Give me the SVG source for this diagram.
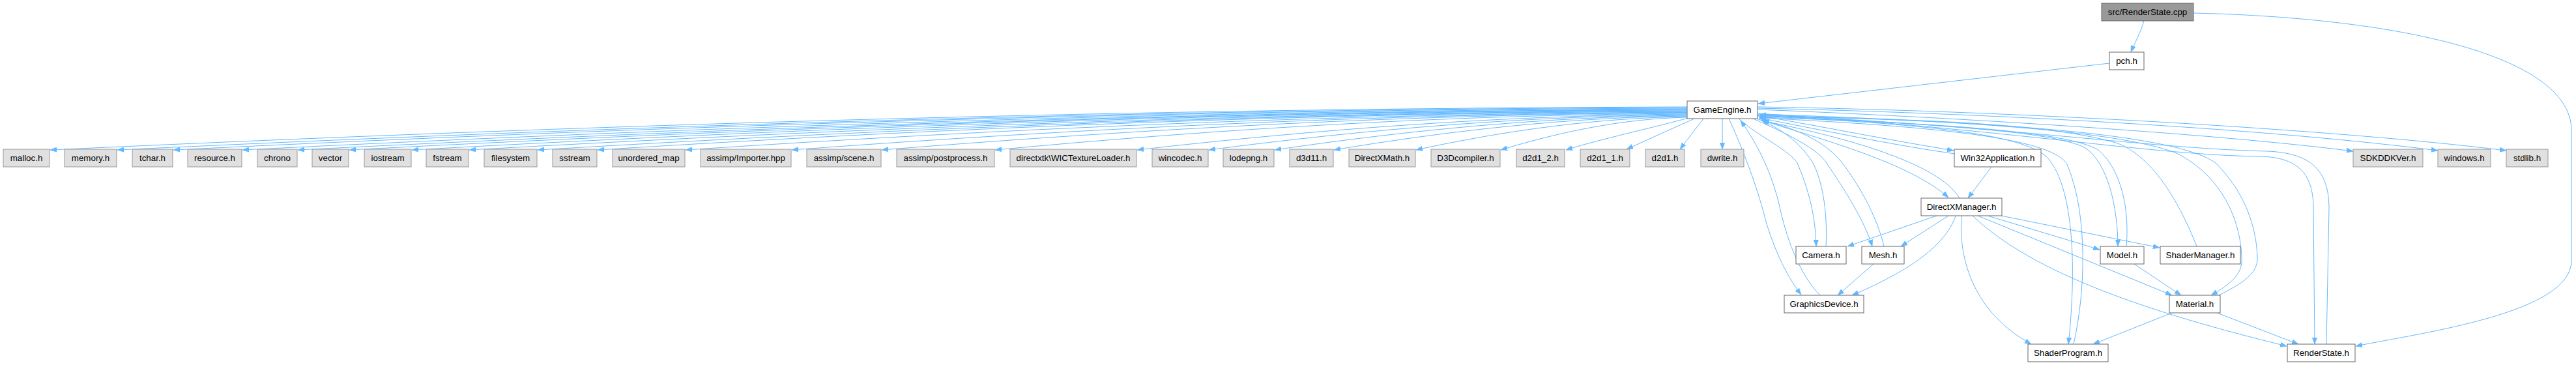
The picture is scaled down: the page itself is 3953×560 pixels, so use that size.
<svg xmlns="http://www.w3.org/2000/svg" width="3953" height="560" viewBox="0 0 3953 560">
<style>
rect{stroke-width:1}
.leaf rect{fill:#e0e0e0;stroke:#999999}
.nd rect{fill:#ffffff;stroke:#666666}
.root rect{fill:#999999;stroke:#666666}
text{font-family:"Liberation Sans",Arial,Helvetica,sans-serif;font-size:13.33px;text-anchor:middle;fill:#000000}
#edges path{fill:none;stroke:#63b8ff;stroke-width:1;marker-end:url(#arr)}
</style>
<defs>
<marker id="arr" markerUnits="userSpaceOnUse" markerWidth="11" markerHeight="8" refX="10" refY="4" orient="auto">
<path d="M0,0.3 L10,4 L0,7.7 z" fill="#63b8ff" stroke="#63b8ff" stroke-width="0.6"/>
</marker>
</defs>
<rect width="3953" height="560" fill="#ffffff"/>
<g id="edges">
<path d="M3290,32 C3285,50 3276,65 3270,80"/>
<path d="M3366,20 C3700,28 3946,90 3946,200 L3946,400 C3946,480 3720,510 3615,531"/>
<path d="M3237,97 L2698,159"/>
<path d="M2589,164 C1751,166 914,191 77,230"/>
<path d="M2589,165 C1786,167 982,192 180,230"/>
<path d="M2589,166 C1814,168 1040,192 266,230"/>
<path d="M2589,167 C1850,169 1110,193 372,230"/>
<path d="M2589,168 C1878,170 1167,194 457,230"/>
<path d="M2589,168.5 C1904,170.5 1220,194 536,230"/>
<path d="M2589,169 C1936,171 1284,194 632,230"/>
<path d="M2589,170 C1966,172 1342,195 720,230"/>
<path d="M2589,170.5 C2001,172.5 1412,195 825,230"/>
<path d="M2589,171 C2031,173 1474,195 917,230"/>
<path d="M2589,172 C2076,174 1564,196 1052,230"/>
<path d="M2589,172.5 C2131,174.5 1672,196 1215,230"/>
<path d="M2589,173 C2177,175 1764,197 1353,230"/>
<path d="M2589,174 C2235,176 1880,197 1527,230"/>
<path d="M2589,175 C2307,177 2026,198 1745,230"/>
<path d="M2589,176 C2344,178 2099,198 1855,230"/>
<path d="M2589,177 C2378,179 2166,199 1956,230"/>
<path d="M2589,178 C2408,180 2227,200 2047,230"/>
<path d="M2589,179 C2450,181 2311,200 2173,230"/>
<path d="M2589,180 C2493,182 2398,201 2303,230"/>
<path d="M2591,181 C2540,195 2450,215 2403,230"/>
<path d="M2600,182 L2496,229"/>
<path d="M2614,182 L2578,229"/>
<path d="M2643,182 L2643,229"/>
<path d="M2697,177 C2800,195 2900,215 2998,231"/>
<path d="M3000,236 C2900,222 2800,200 2699,181"/>
<path d="M2695,182 C2800,215 2930,250 2990,303"/>
<path d="M3007,304 C2975,250 2830,210 2703,185"/>
<path d="M2668,182 C2700,210 2745,230 2758,250 C2775,290 2786,330 2787,378"/>
<path d="M2802,378 C2805,320 2795,275 2782,250 C2760,215 2730,197 2704,185"/>
<path d="M2690,182 C2750,208 2790,230 2803,250 C2830,290 2862,340 2873,378"/>
<path d="M2891,378 C2880,330 2850,280 2827,250 C2800,215 2750,195 2705,185"/>
<path d="M2653,182 C2680,240 2700,300 2710,340 C2725,390 2745,428 2764,452"/>
<path d="M2793,453 C2760,420 2740,360 2731,317 C2720,270 2700,225 2671,185"/>
<path d="M2697,177 C2950,190 3150,200 3200,227 C3235,250 3250,320 3250,378"/>
<path d="M3263,378 C3268,320 3255,260 3220,230 C3170,200 2950,188 2700,180"/>
<path d="M3371,378 C3340,300 3300,240 3250,220 C3150,190 2950,182 2700,179"/>
<path d="M2697,178 C2950,190 3100,205 3140,240 C3180,280 3188,400 3174,528"/>
<path d="M3182,528 C3200,450 3205,330 3172,252 C3150,215 3000,195 2700,181"/>
<path d="M2697,175 C3000,185 3250,200 3340,235 C3410,270 3440,340 3440,400 C3440,425 3415,440 3393,453"/>
<path d="M3405,453 C3440,435 3466,420 3464,394 C3462,340 3440,290 3400,250 C3330,200 3000,185 2700,177"/>
<path d="M2697,174 C3100,200 3300,238 3470,240 C3530,242 3550,270 3550,320 L3552,528"/>
<path d="M3570,528 L3574,320 C3574,260 3545,235 3480,232 C3300,228 3100,195 2700,176"/>
<path d="M2697,168 C3000,180 3400,205 3611,232"/>
<path d="M2697,166 C3100,175 3500,200 3741,231"/>
<path d="M2697,164 C3100,170 3600,200 3846,231"/>
<path d="M3056,256 L3020,304"/>
<path d="M2972,331 L2835,378"/>
<path d="M2990,331 L2917,378"/>
<path d="M3001,331 C2985,380 2920,420 2842,453"/>
<path d="M3010,331 C3005,400 3030,480 3117,528"/>
<path d="M3050,331 L3222,383"/>
<path d="M3071,331 L3314,380"/>
<path d="M3035,331 L3333,453"/>
<path d="M3027,331 C3120,420 3300,480 3509,531"/>
<path d="M2875,405 L2820,453"/>
<path d="M3275,405 L3347,453"/>
<path d="M3333,480 L3212,528"/>
<path d="M3402,480 L3527,528"/>
</g>
<g id="n_root" class="root"><rect x="3225" y="5" width="141" height="27"/><text x="3295.5" y="23.2">src/RenderState.cpp</text></g>
<g id="n_pch" class="nd"><rect x="3237" y="80" width="53" height="27"/><text x="3263.5" y="98.2">pch.h</text></g>
<g id="n_gameengine" class="nd"><rect x="2589" y="155" width="108" height="27"/><text x="2643" y="173.2">GameEngine.h</text></g>
<g id="n_malloc" class="leaf"><rect x="5" y="229" width="71" height="27"/><text x="40.5" y="247.2">malloc.h</text></g>
<g id="n_memory" class="leaf"><rect x="99" y="229" width="80" height="27"/><text x="139" y="247.2">memory.h</text></g>
<g id="n_tchar" class="leaf"><rect x="203" y="229" width="62" height="27"/><text x="234" y="247.2">tchar.h</text></g>
<g id="n_resource" class="leaf"><rect x="288" y="229" width="83" height="27"/><text x="329.5" y="247.2">resource.h</text></g>
<g id="n_chrono" class="leaf"><rect x="395" y="229" width="61" height="27"/><text x="425.5" y="247.2">chrono</text></g>
<g id="n_vector" class="leaf"><rect x="479" y="229" width="56" height="27"/><text x="507" y="247.2">vector</text></g>
<g id="n_iostream" class="leaf"><rect x="559" y="229" width="72" height="27"/><text x="595" y="247.2">iostream</text></g>
<g id="n_fstream" class="leaf"><rect x="654" y="229" width="65" height="27"/><text x="686.5" y="247.2">fstream</text></g>
<g id="n_filesystem" class="leaf"><rect x="743" y="229" width="81" height="27"/><text x="783.5" y="247.2">filesystem</text></g>
<g id="n_sstream" class="leaf"><rect x="848" y="229" width="68" height="27"/><text x="882" y="247.2">sstream</text></g>
<g id="n_unordered_map" class="leaf"><rect x="940" y="229" width="111" height="27"/><text x="995.5" y="247.2">unordered_map</text></g>
<g id="n_importer" class="leaf"><rect x="1075" y="229" width="139" height="27"/><text x="1144.5" y="247.2">assimp/Importer.hpp</text></g>
<g id="n_scene" class="leaf"><rect x="1238" y="229" width="114" height="27"/><text x="1295" y="247.2">assimp/scene.h</text></g>
<g id="n_postprocess" class="leaf"><rect x="1376" y="229" width="150" height="27"/><text x="1451" y="247.2">assimp/postprocess.h</text></g>
<g id="n_wic" class="leaf"><rect x="1550" y="229" width="194" height="27"/><text x="1647" y="247.2">directxtk\WICTextureLoader.h</text></g>
<g id="n_wincodec" class="leaf"><rect x="1768" y="229" width="86" height="27"/><text x="1811" y="247.2">wincodec.h</text></g>
<g id="n_lodepng" class="leaf"><rect x="1877" y="229" width="78" height="27"/><text x="1916" y="247.2">lodepng.h</text></g>
<g id="n_d3d11" class="leaf"><rect x="1979" y="229" width="67" height="27"/><text x="2012.5" y="247.2">d3d11.h</text></g>
<g id="n_directxmath" class="leaf"><rect x="2070" y="229" width="102" height="27"/><text x="2121" y="247.2">DirectXMath.h</text></g>
<g id="n_d3dcompiler" class="leaf"><rect x="2196" y="229" width="106" height="27"/><text x="2249" y="247.2">D3Dcompiler.h</text></g>
<g id="n_d2d1_2" class="leaf"><rect x="2327" y="229" width="74" height="27"/><text x="2364" y="247.2">d2d1_2.h</text></g>
<g id="n_d2d1_1" class="leaf"><rect x="2425" y="229" width="76" height="27"/><text x="2463" y="247.2">d2d1_1.h</text></g>
<g id="n_d2d1" class="leaf"><rect x="2525" y="229" width="60" height="27"/><text x="2555" y="247.2">d2d1.h</text></g>
<g id="n_dwrite" class="leaf"><rect x="2610" y="229" width="66" height="27"/><text x="2643" y="247.2">dwrite.h</text></g>
<g id="n_win32" class="nd"><rect x="2999" y="229" width="133" height="27"/><text x="3065.5" y="247.2">Win32Application.h</text></g>
<g id="n_sdkddkver" class="leaf"><rect x="3611" y="229" width="107" height="27"/><text x="3664.5" y="247.2">SDKDDKVer.h</text></g>
<g id="n_windows" class="leaf"><rect x="3741" y="229" width="81" height="27"/><text x="3781.5" y="247.2">windows.h</text></g>
<g id="n_stdlib" class="leaf"><rect x="3846" y="229" width="64" height="27"/><text x="3878" y="247.2">stdlib.h</text></g>
<g id="n_dxm" class="nd"><rect x="2948" y="304" width="124" height="27"/><text x="3010" y="322.2">DirectXManager.h</text></g>
<g id="n_camera" class="nd"><rect x="2756" y="378" width="77" height="27"/><text x="2794.5" y="396.2">Camera.h</text></g>
<g id="n_mesh" class="nd"><rect x="2857" y="378" width="65" height="27"/><text x="2889.5" y="396.2">Mesh.h</text></g>
<g id="n_model" class="nd"><rect x="3223" y="378" width="67" height="27"/><text x="3256.5" y="396.2">Model.h</text></g>
<g id="n_shadermanager" class="nd"><rect x="3315" y="378" width="123" height="27"/><text x="3376.5" y="396.2">ShaderManager.h</text></g>
<g id="n_graphicsdevice" class="nd"><rect x="2738" y="453" width="122" height="27"/><text x="2799" y="471.2">GraphicsDevice.h</text></g>
<g id="n_material" class="nd"><rect x="3329" y="453" width="78" height="27"/><text x="3368" y="471.2">Material.h</text></g>
<g id="n_shaderprogram" class="nd"><rect x="3112" y="528" width="123" height="27"/><text x="3173.5" y="546.2">ShaderProgram.h</text></g>
<g id="n_renderstate" class="nd"><rect x="3510" y="528" width="104" height="27"/><text x="3562" y="546.2">RenderState.h</text></g>
</svg>
